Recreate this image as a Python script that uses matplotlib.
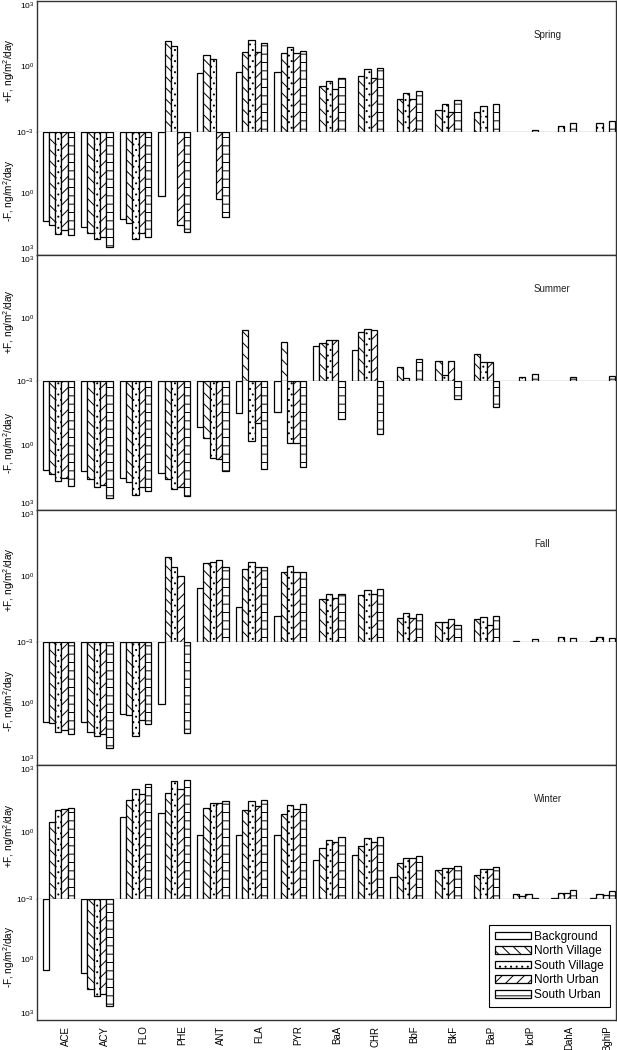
import numpy as np
import matplotlib
matplotlib.use('Agg')
import matplotlib.pyplot as plt
from matplotlib.patches import Patch
from matplotlib.ticker import NullLocator

plt.rcParams['font.family'] = 'Liberation Sans'
plt.rcParams['mathtext.fontset'] = 'custom'
plt.rcParams['mathtext.rm'] = 'Liberation Sans'
plt.rcParams['mathtext.it'] = 'Liberation Sans:italic'
plt.rcParams['hatch.linewidth'] = 0.7

nan = np.nan

compounds = ['ACE', 'ACY', 'FLO', 'PHE', 'ANT', 'FLA', 'PYR', 'BaA', 'CHR',
             'BbF', 'BkF', 'BaP', 'IcdP', 'DahA', 'BghiP']
sites = ['Background', 'North Village', 'South Village', 'North Urban', 'South Urban']
seasons = ['Spring', 'Summer', 'Fall', 'Winter']

# net flux, ng/m2/day (+ = volatilization, - = deposition), nan = no bar
spring_bg = [-21, -41, -18, -1.3, 0.5, 0.55, 0.57, nan, nan, nan, nan, nan, nan, nan, nan]
spring_nv = [-36, -82, -26, 15, 3.3, 4.5, 4.3, 0.126, 0.38, 0.032, 0.0107, 0.0081, nan, nan, nan]
spring_sv = [-95, -160, -160, 8.7, 2.3, 17, 7.9, 0.21, 0.79, 0.063, 0.02, 0.015, nan, 0.0019, 0.0026]
spring_nu = [-60, -137, -87, -36, -1.85, 4.8, 4.0, 0.089, 0.29, 0.032, 0.0081, nan, nan, nan, nan]
spring_su = [-110, -420, -127, -73, -14.5, 11.5, 5.3, 0.29, 0.87, 0.078, 0.028, 0.02, 0.0012, 0.0025, 0.0032]

summer_bg = [-13.8, -16, -32, -19.6, -0.14, -0.03, -0.028, 0.048, 0.031, nan, nan, nan, nan, nan, nan]
summer_nv = [-22, -35, -51, -37, -0.45, 0.27, 0.072, 0.065, 0.21, 0.0045, 0.0087, 0.019, nan, nan, nan]
summer_sv = [-46, -88, -195, -102, -3.8, -0.63, -0.79, 0.087, 0.3, 0.0014, 0.0019, 0.0083, 0.0016, nan, nan]
summer_nu = [-34, -66, -88, -83, -4.4, -0.093, -0.79, 0.087, 0.26, nan, 0.0089, 0.0079, nan, nan, nan]
summer_su = [-74, -277, -126, -224, -16, -12.8, -9.6, -0.06, -0.3, 0.0115, -0.0066, -0.0166, 0.0021, 0.0016, 0.0017]

fall_bg = [-8.3, -7.7, -3.4, -1.0, 0.28, 0.038, 0.015, nan, nan, nan, nan, nan, nan, nan, nan]
fall_nv = [-8.9, -24, -3.6, 7.1, 3.9, 2.1, 1.5, 0.087, 0.14, 0.012, 0.008, 0.011, 0.0011, nan, 0.0011]
fall_sv = [-25, -37, -40, 2.6, 4.5, 4.5, 2.8, 0.15, 0.23, 0.021, 0.008, 0.013, nan, 0.0017, 0.0017]
fall_nu = [-20, -32, -6.6, 1.0, 5.5, 2.5, 1.5, 0.098, 0.15, 0.012, 0.011, 0.0059, nan, nan, nan]
fall_su = [-30, -143, -9.6, -27, 2.5, 2.6, 1.6, 0.16, 0.26, 0.019, 0.0059, 0.015, 0.0014, 0.0015, 0.0016]

winter_bg = [-3.4, -4.9, 4.5, 7.3, 0.71, 0.71, 0.71, 0.056, 0.092, 0.0093, nan, nan, nan, nan, nan]
winter_nv = [2.9, -30, 26, 56, 11.5, 9.4, 6.4, 0.2, 0.23, 0.04, 0.02, 0.012, 0.0016, 0.0011, 0.0011]
winter_sv = [9.4, -64, 82, 186, 20, 24, 15.7, 0.44, 0.56, 0.07, 0.025, 0.021, 0.0013, 0.0018, 0.0016]
winter_nu = [10.4, -51, 52, 82, 20, 14, 10.4, 0.35, 0.35, 0.066, 0.025, 0.021, 0.0016, 0.0018, 0.0015]
winter_su = [12.3, -200, 141, 208, 24, 26, 17.4, 0.58, 0.62, 0.081, 0.029, 0.027, 0.0011, 0.0025, 0.0023]

series = {
    'Spring': [spring_bg, spring_nv, spring_sv, spring_nu, spring_su],
    'Summer': [summer_bg, summer_nv, summer_sv, summer_nu, summer_su],
    'Fall': [fall_bg, fall_nv, fall_sv, fall_nu, fall_su],
    'Winter': [winter_bg, winter_nv, winter_sv, winter_nu, winter_su],
}
hatches = ['', '\\\\\\', '...', '///', '--']

W, H = 617, 1050
fig = plt.figure(figsize=(W / 100, H / 100), dpi=100)
left, right = 37, 616
# pixel rows of each panel: top edge, 10^-3 line, bottom edge
rows = [(1, 132, 255), (255, 381, 510), (510, 642, 765), (765, 899, 1020)]

x = np.arange(len(compounds))
bw = 0.163
floor = 1e-3
frame = '#333333'

for k, (season, (top, mid, bot)) in enumerate(zip(seasons, rows)):
    up = fig.add_axes([left / W, 1 - mid / H, (right - left) / W, (mid - top) / H])
    dn = fig.add_axes([left / W, 1 - bot / H, (right - left) / W, (bot - mid) / H])

    for j, vals in enumerate(series[season]):
        v = np.asarray(vals, dtype=float)
        xs = x + (j - 2) * bw
        pos = v > 0
        neg = v < 0
        up.bar(xs[pos], v[pos] - floor, bottom=floor, width=bw, color='white',
               edgecolor='black', hatch=hatches[j], linewidth=0.9)
        dn.bar(xs[neg], -v[neg] - floor, bottom=floor, width=bw, color='white',
               edgecolor='black', hatch=hatches[j], linewidth=0.9)

    for ax in (up, dn):
        ax.set_yscale('log')
        ax.set_xlim(-0.55, 14.43)
        ax.yaxis.set_minor_locator(NullLocator())
        ax.tick_params(axis='both', length=0, labelsize=6, pad=2)
        for s in ax.spines.values():
            s.set_color(frame)
            s.set_linewidth(1.0)
        ax.set_xticks([])

    up.set_ylim(1e-3, 1e3)
    dn.set_ylim(1e3, 1e-3)
    up.set_yticks([1e-3, 1, 1e3])
    up.set_yticklabels(['$10^{-3}$', '$10^{0}$', '$10^{3}$'])
    dn.set_yticks([1, 1e3])
    dn.set_yticklabels(['$10^{0}$', '$10^{3}$'])
    up.get_yticklabels()[2].set_va('top')
    dn.get_yticklabels()[1].set_va('bottom')

    up.spines['bottom'].set_color('#666666')
    up.spines['bottom'].set_linewidth(0.9)
    dn.spines['top'].set_visible(False)

    up.set_ylabel('+F, ng/m$^2$/day', fontsize=7.2)
    dn.set_ylabel('-F, ng/m$^2$/day', fontsize=7.2)
    up.yaxis.set_label_coords(-0.034, 0.47)
    dn.yaxis.set_label_coords(-0.034, 0.52)

    up.annotate(season, xy=((534 - left) / (right - left), 1), xycoords='axes fraction',
                xytext=(0, -34 * 0.72), textcoords='offset points',
                ha='left', va='center', fontsize=7, color='#222222')

    if k == len(seasons) - 1:
        dn.set_xticks(x + 0.21)
        dn.set_xticklabels(compounds, rotation=90, fontsize=7)
        dn.tick_params(axis='x', length=0, pad=4)
        handles = [Patch(facecolor='white', edgecolor='black', hatch=h, linewidth=0.9)
                   for h in hatches]
        leg = dn.legend(handles, sites, loc='lower right', bbox_to_anchor=(0.9896, 0.107),
                        borderaxespad=0, fontsize=8.6, fancybox=False, edgecolor='black',
                        framealpha=1, handlelength=3.0, handleheight=0.6,
                        handletextpad=0.3, labelspacing=0.22, borderpad=0.5)
        leg.get_frame().set_linewidth(0.8)

fig.savefig('out.png', dpi=100)
